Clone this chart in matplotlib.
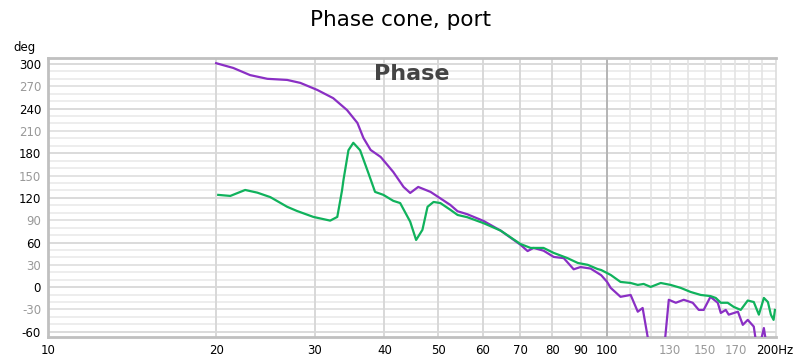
import matplotlib
matplotlib.use("Agg")
import matplotlib.pyplot as plt

# frequency (Hz) / phase (deg)
port_freq = [20.0, 21.46, 23.0, 24.7, 26.8, 28.3, 30.35, 32.4, 34.3, 35.8, 36.7, 37.8,
             39.4, 41.5, 43.3, 44.5, 46.0, 48.4, 52.5, 54.1, 56.3, 60.2, 64.6, 70.1,
             72.2, 74.0, 77.1, 80.4, 83.8, 87.3, 89.8, 93.6, 97.8, 100.2, 101.7, 105.9,
             110.4, 113.7, 116.0, 119.9, 126.5, 129.2, 133.0, 137.4, 142.6, 146.2, 149.2,
             153.4, 158.1, 160.1, 163.4, 165.4, 171.8, 175.3, 178.9, 183.4, 186.5, 191.2,
             194.4, 200.1]
port_phase = [301, 294.6, 285, 280, 278.5, 274.5, 265, 254, 238, 220.7, 200.5, 184.4,
              175, 154.8, 134.7, 126.6, 134.7, 128, 110.5, 102, 98, 89, 76, 57,
              48.5, 52.7, 49, 40.6, 39, 24, 27, 25, 16, 7, -1, -13,
              -10.5, -33, -28, -90, -90, -17, -21, -17, -21, -30.6, -30.6,
              -13, -21, -34.7, -30.6, -37, -33, -50.7, -44, -53, -90, -55,
              -90, -90]

cone_freq = [20.17, 21.2, 22.54, 23.7, 25.0, 26.8, 27.9, 29.85, 32.0, 32.95, 33.6, 33.8,
             34.5, 35.2, 36.2, 37.45, 38.5, 39.85, 41.5, 42.7, 44.5, 45.6, 46.8, 47.8,
             49.0, 50.4, 52.5, 54.1, 56.3, 60.2, 64.6, 70.1, 73.1, 77.1, 80.4, 85.1,
             88.8, 92.5, 96.3, 97.8, 101.7, 105.9, 110.4, 113.7, 116.5, 119.9, 125.0,
             130.2, 135.7, 141.4, 147.4, 153.4, 156.8, 160.1, 164.7, 168.9, 173.8, 178.9,
             183.4, 187.3, 191.2, 194.4, 196.8, 199.0, 200.1]
cone_phase = [124, 122.6, 130.6, 127, 121, 108, 102.4, 94.4, 89.4, 94.4, 130, 144,
              184, 194, 184, 153.5, 128, 124, 116, 113, 88, 63.4, 77, 108,
              114.5, 113, 104, 97, 94, 86, 76, 58, 52.7, 52.7, 46, 39,
              32.5, 30, 24.4, 23, 16.4, 7, 5.6, 3, 4.3, 0.3, 5.6,
              3, -1, -6.5, -10.5, -12, -14.5, -21, -21, -26.6, -30.6, -18,
              -20, -37, -14.5, -20, -37, -44, -30.6]

xticks = [10, 20, 30, 40, 50, 60, 70, 80, 90, 100, 130, 150, 170, 200]
xlabels = ["10", "20", "30", "40", "50", "60", "70", "80", "90", "100",
           "130", "150", "170", "200Hz"]
yticks = [-60, -30, 0, 30, 60, 90, 120, 150, 180, 210, 240, 270, 300]

fig = plt.figure(figsize=(8, 3.64), dpi=100)
ax = fig.add_axes([0.06, 0.0742, 0.91, 0.7665])
ax.set_xscale("log")
ax.set_xlim(10, 201)
ax.set_ylim(-67, 308)

# grid
for v in range(-60, 310, 10):
    if v % 60 == 0:
        c = "#dadada"
    elif v % 30 == 0:
        c = "#e3e3e3"
    else:
        c = "#ededed"
    ax.axhline(v, color=c, lw=1.4, zorder=0)
for f in range(20, 200, 10):
    if f == 100:
        c, lw = "#b4b4b4", 1.4
    elif f < 100:
        c, lw = "#d8d8d8", 1.4
    else:
        c, lw = "#e4e4e4", 1.2
    ax.axvline(f, color=c, lw=lw, zorder=0)

ax.plot(port_freq, port_phase, color="#8a2fc4", lw=1.6, zorder=3)
ax.plot(cone_freq, cone_phase, color="#10b25c", lw=1.6, zorder=4)

ax.set_xticks(xticks)
ax.set_xticklabels(xlabels)
ax.xaxis.set_minor_locator(matplotlib.ticker.NullLocator())
ax.set_yticks(yticks)
ax.set_yticklabels([str(v) for v in yticks])
ax.tick_params(length=0, labelsize=8.5, pad=5)
for lab, v in zip(ax.get_xticklabels(), xticks):
    lab.set_color("#999999" if v in (130, 150, 170) else "black")
for lab, v in zip(ax.get_yticklabels(), yticks):
    lab.set_color("black" if v % 60 == 0 else "#999999")

for s in ["left", "bottom", "top"]:
    ax.spines[s].set_color("#c0c0c0")
    ax.spines[s].set_linewidth(2)
ax.spines["right"].set_color("#dddddd")
ax.spines["right"].set_linewidth(1.2)

ax.text(0.50, 0.943, "Phase", transform=ax.transAxes, ha="center", va="center",
        fontsize=16, fontweight="bold", color="#444444")
fig.text(0.5, 0.945, "Phase cone, port", ha="center", va="center", fontsize=15.5)
fig.text(0.03, 0.87, "deg", ha="center", va="center", fontsize=8.5)

fig.savefig("out.png", dpi=100)
